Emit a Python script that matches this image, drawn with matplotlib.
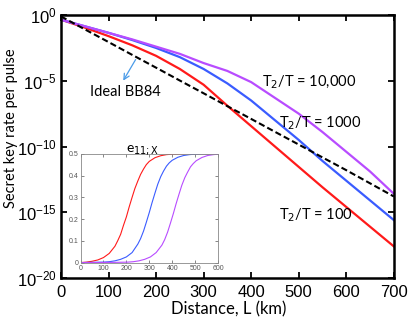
import numpy as np
import matplotlib
matplotlib.use("Agg")
import matplotlib.pyplot as plt

# main panel: log10 of secret key rate vs distance (km)
dist = [0, 50, 100, 150, 200, 250, 300, 350, 400, 450, 500, 550, 600, 650, 700]
ideal = [-0.1, -1.08, -2.05, -3.03, -4.0, -4.98, -5.95, -6.93, -7.9, -8.88, -9.85, -10.83, -11.8, -12.8, -13.8]
t100 = [-0.35, -0.95, -1.6, -2.3, -3.1, -4.1, -5.3, -6.9, -8.45, -10.0, -11.55, -13.1, -14.6, -16.1, -17.6]
t1000 = [-0.35, -0.85, -1.35, -1.9, -2.5, -3.2, -4.1, -5.2, -6.5, -8.0, -9.5, -11.1, -12.6, -14.1, -15.6]
t10000 = [-0.35, -0.85, -1.35, -1.85, -2.4, -2.95, -3.65, -4.25, -5.1, -6.3, -7.5, -8.9, -10.4, -11.9, -13.6]

# inset: e_11;X vs distance, one curve per T2/T
red_L = [0, 25, 50, 75, 100, 125, 150, 162, 175, 187, 200, 212, 225, 237, 250, 262, 275, 287, 300,
         325, 350, 375, 400, 450, 600]
red_e = [0, 0.002, 0.006, 0.012, 0.023, 0.042, 0.075, 0.1, 0.13, 0.17, 0.21, 0.255, 0.3, 0.34, 0.375,
         0.405, 0.43, 0.45, 0.465, 0.482, 0.491, 0.496, 0.498, 0.5, 0.5]
blue_L = [0, 100, 125, 150, 175, 200, 225, 250, 262, 275, 287, 300, 312, 325, 337, 350, 362, 375, 387,
          400, 425, 450, 475, 500, 550, 600]
blue_e = [0, 0.002, 0.004, 0.008, 0.015, 0.026, 0.046, 0.085, 0.11, 0.145, 0.185, 0.23, 0.275, 0.32,
          0.36, 0.395, 0.42, 0.443, 0.458, 0.47, 0.484, 0.492, 0.496, 0.498, 0.5, 0.5]
purple_L = [0, 150, 205, 230, 255, 280, 305, 330, 355, 367, 380, 392, 405, 417, 430, 442, 455, 467, 480,
            492, 505, 530, 555, 580, 600]
purple_e = [0, 0.001, 0.002, 0.004, 0.008, 0.015, 0.026, 0.046, 0.08, 0.105, 0.14, 0.18, 0.225, 0.27,
            0.315, 0.355, 0.39, 0.415, 0.44, 0.455, 0.468, 0.483, 0.492, 0.496, 0.498]

red = '#ff1a1a'
blue = '#3a5cff'
purple = '#b84cff'

plt.rcParams['font.family'] = 'Liberation Sans'
lab_font = 'Lato'

fig = plt.figure(figsize=(4.09, 3.21), dpi=100)
ax = fig.add_axes([0.149, 0.134, 0.814, 0.819])

d = np.array(dist)
ax.plot(d, 10.0 ** np.array(t100), color=red, lw=1.6)
ax.plot(d, 10.0 ** np.array(t1000), color=blue, lw=1.6)
ax.plot(d, 10.0 ** np.array(t10000), color=purple, lw=1.6)
ax.plot(d, 10.0 ** np.array(ideal), color='black', lw=1.5, ls=(0, (3, 1.5)))

ax.set_yscale('log')
ax.set_xlim(0, 700)
ax.set_ylim(1e-20, 1e0)
ax.set_xticks(range(0, 701, 100))
ax.set_yticks([1e0, 1e-5, 1e-10, 1e-15, 1e-20])
ax.minorticks_off()
ax.tick_params(direction='in', top=True, right=True, length=4, width=1.3, labelsize=12, pad=5)
ax.tick_params(axis='y', pad=3)
for s in ax.spines.values():
    s.set_linewidth(1.8)

ax.set_xlabel('Distance, L (km)', fontsize=12, family=lab_font)
ax.xaxis.set_label_coords(0.505, -0.088)
ax.set_ylabel('Secret key rate per pulse', fontsize=10.5, family=lab_font)
ax.yaxis.set_label_coords(-0.128, 0.57)

ax.text(422, 10 ** -5.1, r'T$_2$/T = 10,000', fontsize=10.5, family=lab_font, va='center')
ax.text(458, 10 ** -8.2, r'T$_2$/T = 1000', fontsize=10.5, family=lab_font, va='center')
ax.text(458, 10 ** -15.2, r'T$_2$/T = 100', fontsize=10.5, family=lab_font, va='center')
ax.text(61, 10 ** -5.86, 'Ideal BB84', fontsize=10.5, family=lab_font, va='center')
ax.annotate('', xy=(128, 10 ** -5.17), xytext=(160, 10 ** -3.2),
            arrowprops=dict(arrowstyle='->', color='#4a9be8', lw=0.9))

# inset
ins = fig.add_axes([0.197, 0.182, 0.336, 0.339])
ins.plot(red_L, red_e, color=red, lw=0.8)
ins.plot(blue_L, blue_e, color=blue, lw=0.8)
ins.plot(purple_L, purple_e, color=purple, lw=0.8)
ins.set_xlim(0, 600)
ins.set_ylim(0, 0.5)
ins.set_xticks(range(0, 601, 100))
ins.set_yticks([0, 0.1, 0.2, 0.3, 0.4, 0.5])
ins.set_yticklabels(['0', '0.1', '0.2', '0.3', '0.4', '0.5'])
ins.tick_params(direction='in', top=True, right=True, length=2, width=0.5,
                labelsize=5, colors='#555555', pad=1.5)
for s in ins.spines.values():
    s.set_linewidth(0.6)
    s.set_color('#888888')
ins.set_title(r'e$_{\mathrm{11;X}}$', fontsize=10, family=lab_font, pad=1, x=0.45)

fig.savefig('out.png', dpi=100)
